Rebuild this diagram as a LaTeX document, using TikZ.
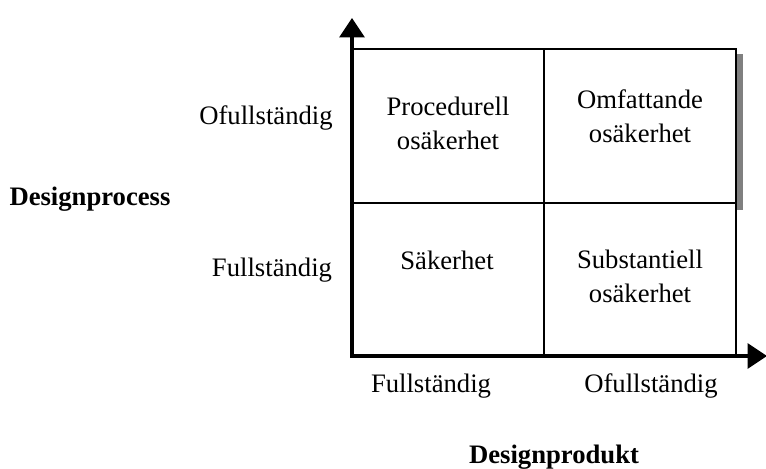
\documentclass[tikz,border=0pt]{standalone}
\usepackage{fontspec}
\setmainfont{Liberation Serif}
\usetikzlibrary{arrows.meta}
\tikzset{
  lbl/.style={font=\fontsize{20}{25.5}\selectfont, align=center, inner sep=0pt, anchor=base},
  bold/.style={lbl, font=\fontsize{20}{25.5}\selectfont\bfseries},
  axis/.style={line width=2.8pt, -{Triangle[length=14.5pt,width=18.5pt]}},
  grid/.style={line width=1pt},
}
\begin{document}
\begin{tikzpicture}[x=0.75pt,y=-0.75pt]
\useasboundingbox (0,0) rectangle (766,468);
% shadow on the right edge of the upper-right cell
\fill[black!50] (737,54) rectangle (743,210);
% cell grid
\coordinate (o) at (352,356);
\coordinate (tl) at (352,49);
\coordinate (tr) at (736,49);
\coordinate (br) at (736,356);
\coordinate (mt) at (544,49);
\coordinate (mb) at (544,356);
\coordinate (ml) at (352,203);
\coordinate (mr) at (736,203);
\draw[grid] (tl) -- (tr) -- (br);
\draw[grid] (mt) -- (mb);
\draw[grid] (ml) -- (mr);
% axes
\coordinate (ytip) at (352,18);
\coordinate (xtip) at (767,356);
\draw[axis] ([yshift=-1.4pt]o) -- (ytip);
\draw[axis] ([xshift=-1.4pt]o) -- (xtip);
% cell texts (base anchor sits on the last line)
\node[lbl] (c1) at (448,149) {Procedurell\\osäkerhet};
\node[lbl] (c2) at (640,142) {Omfattande\\osäkerhet};
\node[lbl] (c3) at (447,269) {Säkerhet};
\node[lbl] (c4) at (640,302) {Substantiell\\osäkerhet};
% vertical axis labels
\node[lbl] (v1) at (266,124) {Ofullständig};
\node[lbl] (v2) at (272,276) {Fullständig};
\node[bold] (vt) at (90,205) {Designprocess};
% horizontal axis labels
\node[lbl] (h1) at (431,392) {Fullständig};
\node[lbl] (h2) at (651,392) {Ofullständig};
\node[bold] (ht) at (554,463) {Designprodukt};
\end{tikzpicture}
\end{document}
